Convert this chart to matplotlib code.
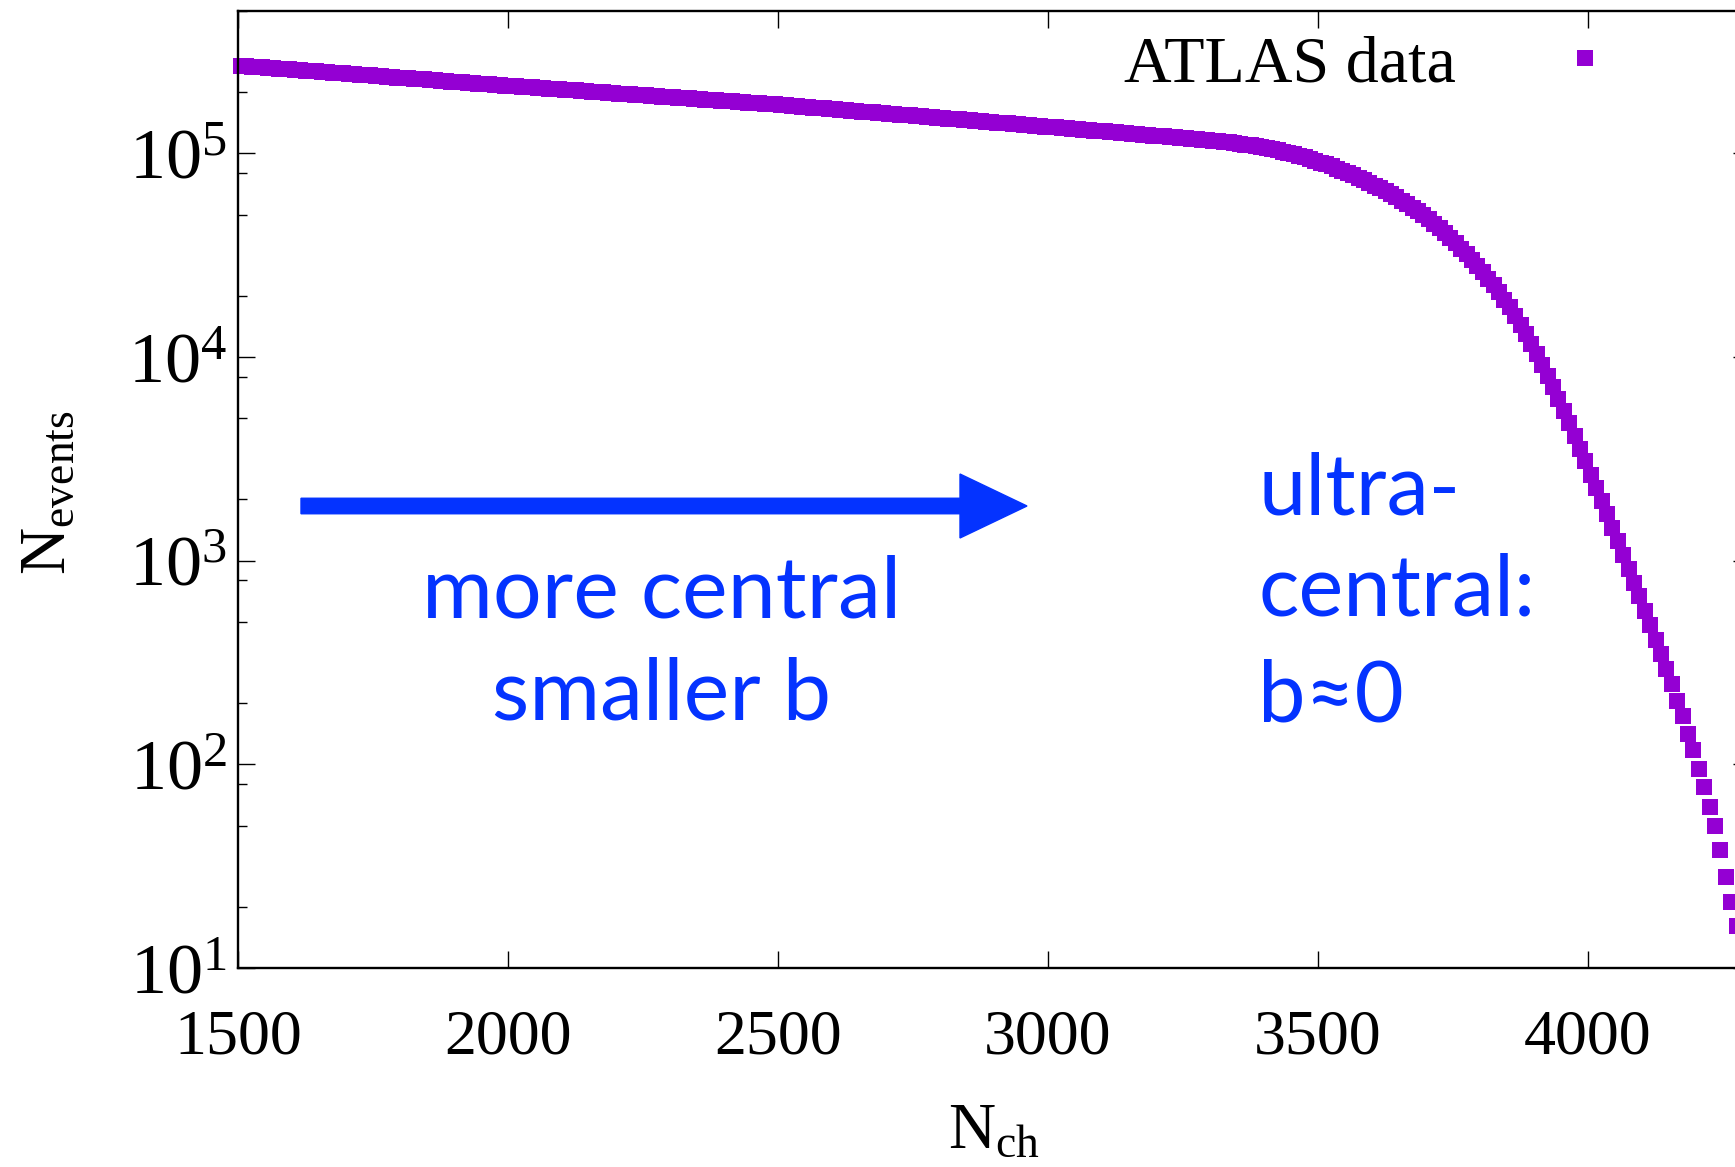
import numpy as np
import matplotlib
matplotlib.use("Agg")
import matplotlib.pyplot as plt
from matplotlib.ticker import LogLocator, NullFormatter, FixedLocator
from matplotlib.patches import FancyArrow
from matplotlib.lines import Line2D

plt.rcParams['font.family'] = ['Liberation Serif', 'DejaVu Serif']
plt.rcParams['mathtext.default'] = 'regular'

# ---- data (bin centres of N_ch, counts) ----
nch = np.arange(1505, 4285, 10)
counts = [
    269200, 267900, 266700, 265500, 264300, 263100, 261900, 260700, 259500, 258300,
    257100, 255900, 254800, 253600, 252500, 251300, 250200, 249000, 247900, 246800,
    245600, 244500, 243400, 242300, 241200, 240100, 239000, 237900, 236800, 235700,
    234700, 233600, 232600, 231500, 230500, 229400, 228400, 227300, 226300, 225300,
    224200, 223200, 222200, 221200, 220200, 219200, 218200, 217200, 216200, 215200,
    214300, 213400, 212500, 211600, 210700, 209800, 208900, 208000, 207100, 206200,
    205300, 204400, 203600, 202700, 201800, 201000, 200100, 199300, 198400, 197600,
    196700, 195900, 195000, 194200, 193400, 192500, 191700, 190900, 190100, 189300,
    188500, 187700, 186900, 186100, 185300, 184500, 183700, 182900, 182100, 181400,
    180600, 179800, 179000, 178300, 177500, 176800, 176000, 175300, 174500, 173800,
    172900, 172100, 171200, 170400, 169500, 168700, 167900, 167000, 166200, 165400,
    164600, 163800, 162900, 162100, 161300, 160500, 159700, 158900, 158200, 157400,
    156600, 155800, 155000, 154200, 153500, 152700, 151900, 151200, 150400, 149700,
    148900, 148200, 147400, 146700, 146000, 145200, 144500, 143800, 143100, 142400,
    141700, 141000, 140300, 139600, 138900, 138200, 137500, 136800, 136100, 135400,
    134700, 134000, 133400, 132700, 132000, 131400, 130700, 130000, 129400, 128700,
    128100, 127400, 126800, 126100, 125500, 124800, 124200, 123600, 122900, 122300,
    121700, 121100, 120400, 119800, 119200, 118600, 118000, 117400, 116800, 116200,
    115500, 114700, 113900, 113100, 112200, 111300, 110300, 109300, 108200, 107100,
    105900, 104600, 103300, 101900, 100500, 98970, 97360, 95680, 93910, 92070,
    90160, 88210, 86220, 84200, 82150, 80080, 77980, 75880, 73760, 71630,
    69500, 67340, 65160, 63000, 60800, 58580, 56360, 54120, 51880, 49620,
    47360, 45080, 42830, 40590, 38380, 36210, 34080, 32000, 29990, 28020,
    26120, 24270, 22490, 20780, 19130, 17570, 15920, 14380, 12940, 11610,
    10320, 9136, 8058, 7085, 6207, 5420, 4721, 4101, 3552, 3069,
    2648, 2282, 1966, 1690, 1452, 1246, 1068, 914, 781, 667,
    568, 483, 410, 348, 294, 248, 204, 172, 141, 117,
    95, 77, 62, 50, 38, 28, 21, 16,
]
assert len(counts) == len(nch)

x_ticks = [1500, 2000, 2500, 3000, 3500, 4000]
y_ticks = [1e1, 1e2, 1e3, 1e4, 1e5]
y_tick_labels = [r'$10^{1}$', r'$10^{2}$', r'$10^{3}$', r'$10^{4}$', r'$10^{5}$']
series_label = 'ATLAS data'
note_left = ['more central', 'smaller b']
note_right = ['ultra-', 'central:', 'b\u22480']

# ---- figure ----
W, H = 1735, 1167
fig = plt.figure(figsize=(W / 100, H / 100), dpi=100)
ax = fig.add_axes([238 / W, 199 / H, 1512 / W, 957 / H])

purple = '#9400d3'
blue = '#0433ff'

ax.plot(nch, counts, linestyle='none', marker='s', markersize=12.2,
        markeredgewidth=0, color=purple, clip_on=False, zorder=2)

ax.set_yscale('log')
ax.set_xlim(1500, 4300)
ax.set_ylim(10, 5e5)

ax.xaxis.set_major_locator(FixedLocator(x_ticks))
ax.set_xticklabels([str(t) for t in x_ticks])
ax.yaxis.set_major_locator(FixedLocator(y_ticks))
ax.set_yticklabels(y_tick_labels)
ax.yaxis.set_minor_locator(LogLocator(base=10, subs=[2, 5, 8]))
ax.yaxis.set_minor_formatter(NullFormatter())

for s in ax.spines.values():
    s.set_linewidth(1.7)

ax.tick_params(which='both', direction='in', top=True, right=True, width=1.0)
ax.tick_params(which='major', length=12.2)
ax.tick_params(which='minor', length=6.5)
ax.tick_params(axis='x', labelsize=46, pad=30)
ax.tick_params(axis='y', labelsize=52, pad=8)

ax.set_xlabel(r'$N_{ch}$', fontsize=47)
ax.xaxis.set_label_coords(994 / W, 1 - 1162 / H, transform=fig.transFigure)
ax.xaxis.label.set_va('bottom')
ax.set_ylabel(r'$N_{events}$', fontsize=47)
ax.yaxis.set_label_coords(20 / W, 1 - 493 / H, transform=fig.transFigure)
ax.yaxis.label.set_va('top')

# legend (text then sample, gnuplot style)
handle = Line2D([], [], linestyle='none', marker='s', markersize=12.2,
                markeredgewidth=0, color=purple)
ax.legend([handle], [series_label], loc='center right',
          bbox_to_anchor=(1618 / W, 1 - 65 / H), bbox_transform=fig.transFigure,
          frameon=False, markerfirst=False, handlelength=1.0, handletextpad=1.45,
          borderpad=0, borderaxespad=0, fontsize=47.5)

# annotations
fig.patches.append(FancyArrow(301 / W, 1 - 506 / H, (1027 - 301) / W, 0,
                              width=15.5 / H, head_width=64 / H, head_length=67 / W,
                              length_includes_head=True, color=blue,
                              transform=fig.transFigure, figure=fig))

for txt, yb in zip(note_left, [617, 720]):
    fig.text(662 / W, 1 - yb / H, txt, ha='center', va='baseline',
             fontsize=62, color=blue, family=['Lato', 'DejaVu Sans'])
for txt, yb in zip(note_right, [514, 616, 721]):
    fig.text(1258 / W, 1 - yb / H, txt, ha='left', va='baseline',
             fontsize=61, color=blue, family=['Lato', 'DejaVu Sans'])

fig.savefig('out.png', dpi=100)
